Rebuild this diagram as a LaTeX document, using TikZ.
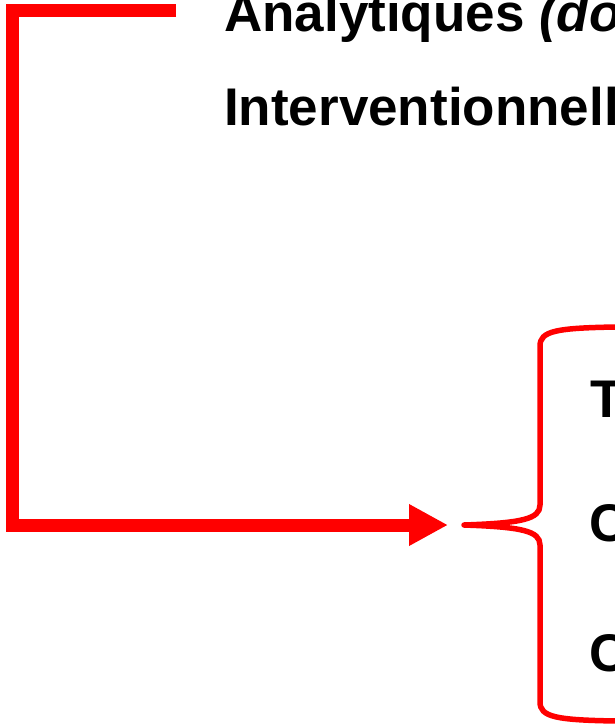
\documentclass[tikz,border=0pt]{standalone}
\usepackage{fontspec}
\setmainfont{Liberation Sans}
\usetikzlibrary{arrows.meta}

\tikzset{
    label/.style={anchor=base west,inner sep=0pt,font=\fontsize{53}{60}\selectfont\bfseries},
    link/.style={red,line width=13pt,miter limit=10},
    curly/.style={red,line width=5.5pt,line cap=round,line join=round}
}

\begin{document}
\begin{tikzpicture}[x=1pt,y=-1pt]
    \useasboundingbox (0,0) rectangle (615,725);
    % left column of labels
    \node[label] (analyt) at (224,32) {Analytiques \textit{(do}};
    \node[label] (interv) at (224,125) {Interventionnell};
    % items behind the brace
    \node[label] (itemT) at (590,417) {T};
    \node[label] (itemC) at (589,541) {C};
    \node[label] (itemCC) at (589,671) {C};
    % connector
    \coordinate (start) at (176,11);
    \coordinate (corner) at (12,11);
    \coordinate (tip) at (464,525);
    \coordinate (arrowend) at (448,525);
    \draw[link,-{Triangle[length=39pt,width=39pt]}] (start) -- (corner) |- (arrowend);
    % brace
    \draw[curly] (616,327) .. controls (556,328) and (540,331) .. (540,346) -- (540,505)
        .. controls (540,519) and (522,523) .. (tip)
        .. controls (522,527) and (540,531) .. (540,545) -- (540,702)
        .. controls (540,717) and (556,720) .. (616,721);
\end{tikzpicture}
\end{document}
